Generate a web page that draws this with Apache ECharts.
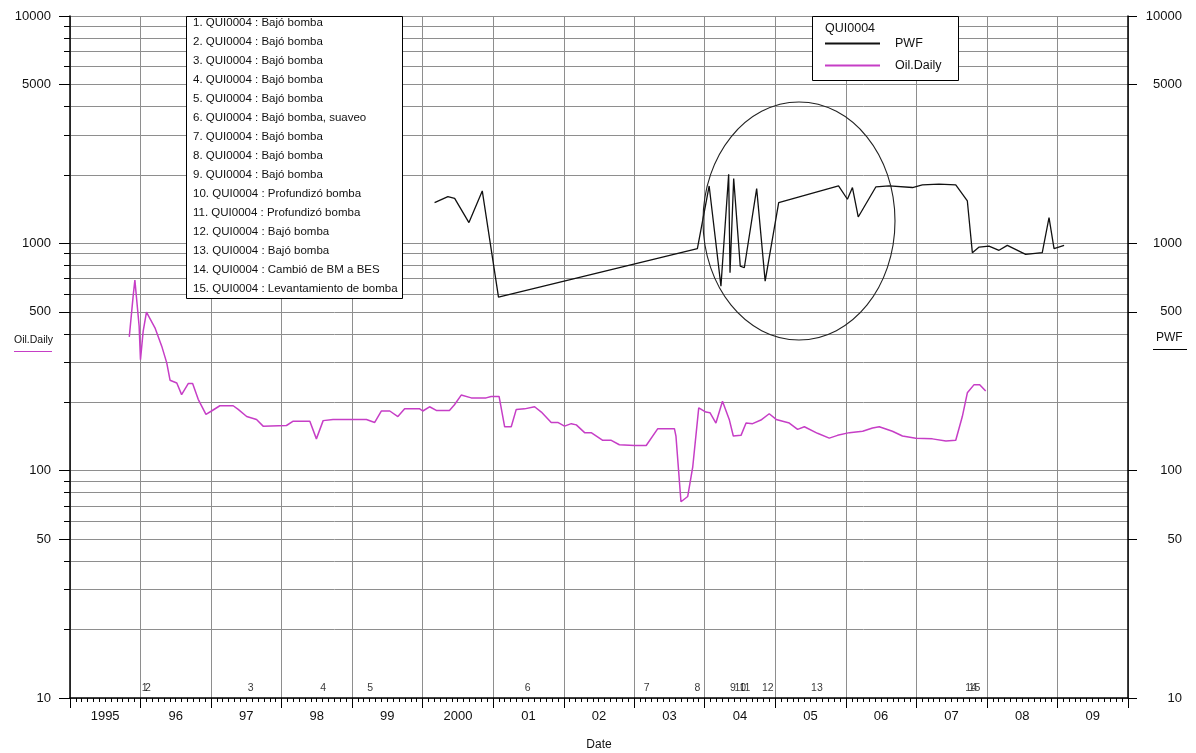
<!DOCTYPE html>
<html>
<head>
<meta charset="utf-8">
<script src="https://cdn.jsdelivr.net/npm/echarts@6/dist/echarts.min.js"></script>
<style>
  html, body { margin: 0; padding: 0; background: #fff; }
  #chart { width: 1196px; height: 753px; }
</style>
</head>
<body>
<div id="chart"></div>
<script>
// Well QUI0004: flowing bottom-hole pressure (PWF) and daily oil rate, log scale.

const pwfDates = ['2000-03-03','2000-05-11','2000-06-15','2000-08-28','2000-11-05','2001-01-28',
  '2003-11-24','2004-01-24','2004-03-25','2004-05-04','2004-05-11','2004-05-30','2004-07-03',
  '2004-07-24','2004-09-26','2004-11-09','2005-01-18','2005-11-24','2006-01-09','2006-02-04',
  '2006-03-06','2006-06-05','2006-08-13','2006-12-12','2007-02-01','2007-04-28','2007-07-24',
  '2007-09-22','2007-10-18','2007-11-22','2008-01-12','2008-03-04','2008-04-16','2008-07-20',
  '2008-10-14','2008-11-18','2008-12-14','2009-02-04'];
const pwfValues = [1511,1606,1578,1234,1700,580,
  948,1788,648,2014,743,1928,794,
  781,1742,682,1511,1788,1563,1760,
  1306,1770,1788,1760,1806,1820,1806,
  1536,910,963,973,932,980,894,
  910,1298,948,980];

const oilDates = ['1995-11-04','1995-11-24','1995-12-03','1995-12-12','1995-12-25','1996-01-01',
  '1996-01-15','1996-02-01','1996-03-16','1996-04-20','1996-05-16','1996-06-02','1996-07-07',
  '1996-08-01','1996-09-05','1996-09-27','1996-10-26','1996-12-05','1997-01-03','1997-02-15',
  '1997-04-25','1997-05-21','1997-07-04','1997-08-24','1997-09-27','1998-01-26','1998-03-02',
  '1998-05-27','1998-06-30','1998-08-04','1998-09-24','1999-03-16','1999-04-28','1999-06-01',
  '1999-07-15','1999-08-26','1999-09-30','1999-12-17','2000-01-02','2000-02-06','2000-03-12',
  '2000-05-19','2000-06-14','2000-07-19','2000-09-09','2000-11-25','2000-12-21','2001-01-31',
  '2001-03-01','2001-04-04','2001-04-30','2001-06-12','2001-08-03','2001-09-07','2001-10-28',
  '2001-12-01','2002-01-05','2002-02-09','2002-03-07','2002-04-19','2002-05-23','2002-07-22',
  '2002-09-04','2002-10-16','2003-01-02','2003-03-04','2003-05-03','2003-07-28','2003-08-05',
  '2003-08-31','2003-10-05','2003-10-31','2003-12-01','2004-01-07','2004-01-28','2004-02-28',
  '2004-04-02','2004-05-07','2004-05-28','2004-07-07','2004-08-02','2004-09-05','2004-10-18',
  '2004-11-30','2005-01-05','2005-03-14','2005-04-26','2005-05-31','2005-08-07','2005-10-07',
  '2005-11-19','2006-01-19','2006-03-29','2006-05-19','2006-06-23','2006-08-30','2006-10-21',
  '2006-12-29','2007-03-25','2007-06-03','2007-07-24','2007-08-27','2007-09-22','2007-10-27',
  '2007-11-25','2007-12-26'];
const oilValues = [388,586,689,690,432,308,
  411,498,425,353,298,250,243,
  216,242,242,206,177,183,193,
  193,186,173,168,157,158,165,
  165,138,166,168,168,163,183,
  183,173,187,187,183,191,184,
  184,195,215,209,209,212,212,
  156,156,186,187,191,181,163,
  163,157,161,159,147,147,136,
  136,130,129,129,153,153,142,
  73,77,104,189,181,180,162,
  202,168,142,143,162,161,167,
  178,168,162,152,156,146,139,
  143,147,149,154,156,149,142,
  139,138,135,136,173,220,239,
  239,224];

const eventNumbers = [1,2,3,4,5,6,7,8,9,10,11,12,13,14,15];
const eventDates = ['1996-01-23','1996-02-08','1997-07-24','1998-08-04','1999-04-05','2001-06-28',
  '2003-03-07','2003-11-24','2004-05-26','2004-07-03','2004-07-27','2004-11-23','2005-08-04',
  '2007-10-11','2007-10-29'];
const eventNotes = ['Bajó bomba','Bajó bomba','Bajó bomba','Bajó bomba','Bajó bomba',
  'Bajó bomba, suaveo','Bajó bomba','Bajó bomba','Bajó bomba','Profundizó bomba',
  'Profundizó bomba','Bajó bomba','Bajó bomba','Cambió de BM a BES','Levantamiento de bomba'];

const wellName = 'QUI0004';
const yearLabels = ['1995','96','97','98','99','2000','01','02','03','04','05','06','07','08','09'];
const yLabelValues = [10, 50, 100, 500, 1000, 5000, 10000];

const FONT = '"Liberation Sans", Arial, Helvetica, sans-serif';
const OIL_COLOR = '#c63ec6';
const PWF_COLOR = '#111111';
const GRID_COLOR = '#8e8e8e';

// 'YYYY-MM-DD' -> local timestamp for the date value axis
function toTime(s) {
  const [y, m, d] = s.split('-').map(Number);
  return new Date(y, m - 1, d).getTime();
}

// log grid lines at 1..9 x each decade
const yGridValues = [];
for (let p = 1; p <= 3; p++) {
  for (let m = 1; m <= 9; m++) yGridValues.push(m * Math.pow(10, p));
}
yGridValues.push(10000);

const firstYear = 1995;
const lastYear = firstYear + yearLabels.length;          // axis ends on 1 Jan 2010
const yearTicks = [];
const yearLabelPos = [];
const monthTicks = [];
for (let y = firstYear; y <= lastYear; y++) {
  yearTicks.push(new Date(y, 0, 1).getTime());
  if (y < lastYear) {
    yearLabelPos.push(new Date(y, 6, 2).getTime());
    for (let m = 1; m < 12; m++) monthTicks.push(new Date(y, m, 1).getTime());
  }
}
const xMin = yearTicks[0];
const xMax = yearTicks[yearTicks.length - 1];

const noteLines = eventNotes.map((n, i) => `${eventNumbers[i]}. ${wellName} : ${n}`);
const EVENT_LEVEL = 11.1;

const chart = echarts.init(document.getElementById('chart'), null, { renderer: 'canvas' });

const axisText = { fontFamily: FONT, fontSize: 13, color: '#111' };

chart.setOption({
  animation: false,
  backgroundColor: '#fff',
  textStyle: { fontFamily: FONT },
  grid: { left: 70, right: 68, top: 16, bottom: 55, outerBoundsMode: 'none', containLabel: false },
  legend: {
    data: ['PWF', 'Oil.Daily'],
    orient: 'vertical',
    left: 825, top: 37,
    padding: 0,
    itemWidth: 55, itemHeight: 2, itemGap: 9,
    icon: 'rect',
    selectedMode: false,
    z: 10,
    textStyle: { fontFamily: FONT, fontSize: 12.5, color: '#111', padding: [0, 0, 0, 10] }
  },
  xAxis: [
    {
      type: 'value', min: xMin, max: xMax,
      name: 'Date', nameLocation: 'middle', nameGap: 41,
      nameTextStyle: { fontFamily: FONT, fontSize: 12, color: '#111' },
      axisLine: { show: true, lineStyle: { color: '#000', width: 1.5 } },
      axisTick: { show: true, length: 10, customValues: yearTicks, lineStyle: { color: '#000' } },
      axisLabel: {
        customValues: yearLabelPos, margin: 12, ...axisText,
        formatter: v => yearLabels[new Date(v).getFullYear() - firstYear]
      },
      splitLine: { show: true, lineStyle: { color: GRID_COLOR, width: 1 } }
    },
    {
      type: 'value', min: xMin, max: xMax, position: 'bottom',
      axisLine: { show: false },
      axisTick: { show: true, length: 4, customValues: monthTicks, lineStyle: { color: '#000' } },
      axisLabel: { show: false },
      splitLine: { show: false }
    }
  ],
  yAxis: [
    {
      type: 'log', logBase: 10, min: 10, max: 10000, position: 'left',
      axisLine: { show: true, lineStyle: { color: '#000', width: 1.5 } },
      axisTick: { show: true, length: 6, customValues: yGridValues, lineStyle: { color: '#000' } },
      axisLabel: { customValues: yLabelValues, margin: 19, ...axisText, formatter: v => String(Math.round(v)) },
      splitLine: { show: true, lineStyle: { color: GRID_COLOR, width: 1 } }
    },
    {
      type: 'log', logBase: 10, min: 10, max: 10000, position: 'right',
      axisLine: { show: true, lineStyle: { color: '#000', width: 1.5 } },
      axisTick: { show: true, length: 9, customValues: yLabelValues, lineStyle: { color: '#000' } },
      axisLabel: { customValues: yLabelValues, margin: 54, align: 'right', ...axisText, formatter: v => String(Math.round(v)) },
      splitLine: { show: false }
    },
    {
      type: 'log', logBase: 10, min: 10, max: 10000, position: 'left',
      axisLine: { show: false },
      axisTick: { show: true, length: 11, customValues: yLabelValues, lineStyle: { color: '#000' } },
      axisLabel: { show: false },
      splitLine: { show: false }
    }
  ],
  series: [
    {
      name: 'PWF', type: 'line', xAxisIndex: 0, yAxisIndex: 1,
      data: pwfDates.map((d, i) => [toTime(d), pwfValues[i]]),
      symbol: 'none', color: PWF_COLOR,
      lineStyle: { color: PWF_COLOR, width: 1.3 }, z: 3
    },
    {
      name: 'Oil.Daily', type: 'line', xAxisIndex: 0, yAxisIndex: 0,
      data: oilDates.map((d, i) => [toTime(d), oilValues[i]]),
      symbol: 'none', color: OIL_COLOR,
      lineStyle: { color: OIL_COLOR, width: 1.5 }, z: 3
    },
    {
      name: 'Eventos', type: 'scatter', xAxisIndex: 0, yAxisIndex: 0,
      data: eventDates.map((d, i) => [toTime(d), EVENT_LEVEL, eventNumbers[i]]),
      symbolSize: 1, itemStyle: { color: 'rgba(0,0,0,0)' },
      label: {
        show: true, position: 'inside', formatter: p => String(p.data[2]),
        fontFamily: FONT, fontSize: 10.5, color: '#000'
      },
      silent: true, z: 4
    }
  ],
  graphic: { elements: [
    // event notes box
    { type: 'rect', z: 5, shape: { x: 186.5, y: 16.5, width: 216, height: 282 },
      style: { fill: '#fff', stroke: '#000', lineWidth: 1 } },
    { type: 'text', z: 6, x: 193, y: 13.5,
      style: { text: noteLines.join('\n'), fontFamily: FONT, fontSize: 11.5, lineHeight: 19,
               fill: '#111', verticalAlign: 'top' } },
    // series legend box
    { type: 'rect', z: 5, shape: { x: 812.5, y: 16.5, width: 146, height: 64 },
      style: { fill: '#fff', stroke: '#000', lineWidth: 1 } },
    { type: 'text', z: 6, x: 825, y: 22,
      style: { text: wellName, fontFamily: FONT, fontSize: 12.5, fill: '#111', verticalAlign: 'top' } },
    // highlighted zone
    { type: 'ellipse', z: 7, shape: { cx: 799, cy: 221, rx: 96, ry: 119 },
      style: { fill: 'none', stroke: '#222', lineWidth: 1.1 } },
    // axis captions
    { type: 'text', z: 6, x: 14, y: 340,
      style: { text: 'Oil.Daily', fontFamily: FONT, fontSize: 10.5, fill: '#111', verticalAlign: 'middle' } },
    { type: 'line', z: 6, shape: { x1: 14, y1: 351.5, x2: 52, y2: 351.5 },
      style: { stroke: OIL_COLOR, lineWidth: 1 } },
    { type: 'text', z: 6, x: 1156, y: 338,
      style: { text: 'PWF', fontFamily: FONT, fontSize: 12, fill: '#111', verticalAlign: 'middle' } },
    { type: 'line', z: 6, shape: { x1: 1153, y1: 349.5, x2: 1187, y2: 349.5 },
      style: { stroke: '#000', lineWidth: 1 } }
  ] }
});
</script>
</body>
</html>
